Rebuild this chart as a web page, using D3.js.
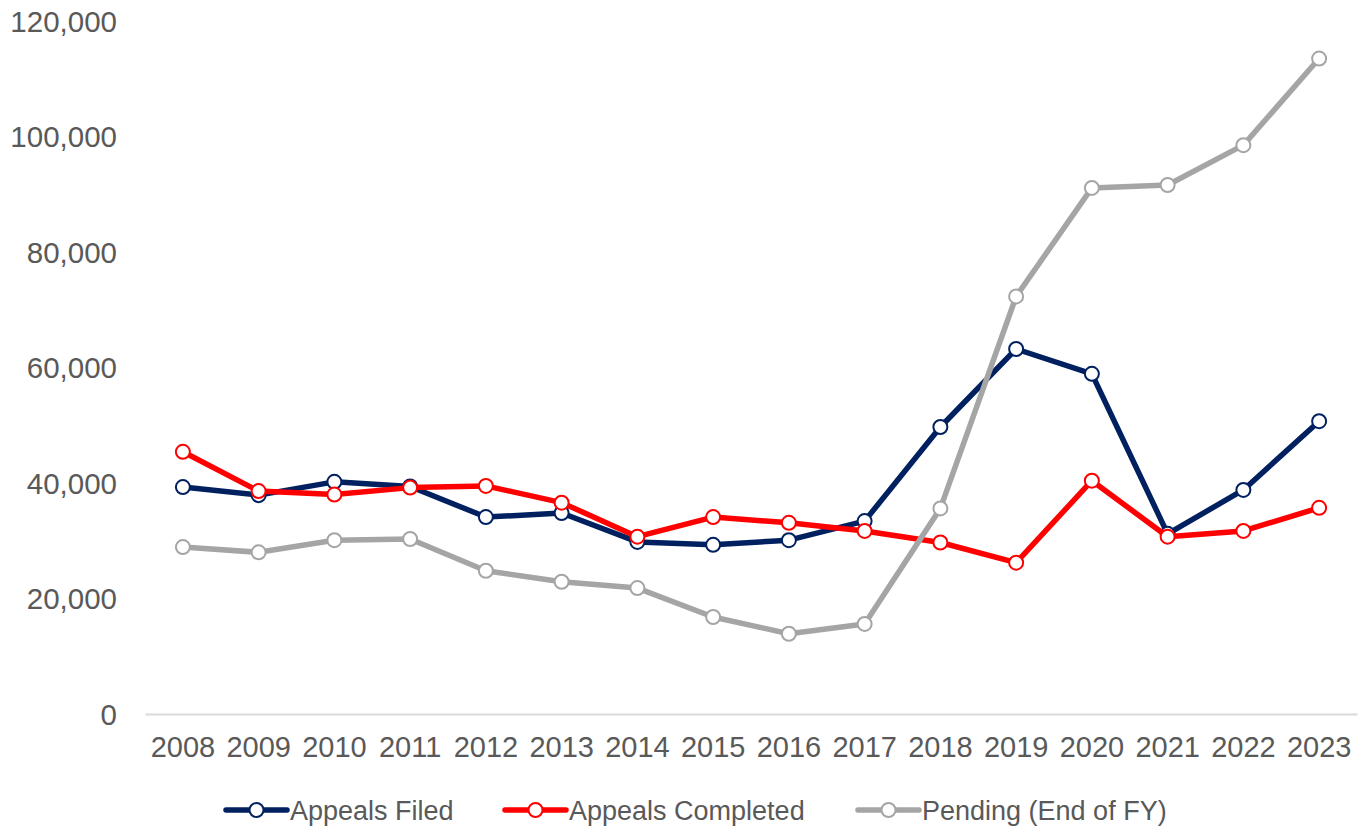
<!DOCTYPE html>
<html><head><meta charset="utf-8">
<script src="https://cdn.jsdelivr.net/npm/d3@7"></script>
<style>
html,body{margin:0;padding:0;background:#fff;}
svg text{font-family:"Liberation Sans",Arial,sans-serif;fill:#595959;}
</style></head>
<body><svg id="c" width="1364" height="827"></svg>
<script>
const years = ["2008","2009","2010","2011","2012","2013","2014","2015","2016","2017","2018","2019","2020","2021","2022","2023"];
const appealsFiled = [39300,37900,40200,39400,34100,34800,29800,29300,30100,33400,49700,63200,58900,31200,38800,50700];
const appealsCompleted = [45400,38600,38000,39200,39500,36600,30700,34100,33100,31700,29700,26200,40400,30700,31700,35700];
const pending = [28900,28000,30100,30300,24800,22900,21800,16800,13900,15600,35600,72300,91100,91600,98500,113500];
const yTicks = [0,20000,40000,60000,80000,100000,120000];
const seriesNames = ["Appeals Filed","Appeals Completed","Pending (End of FY)"];
const seriesColors = ["#002060","#ff0000","#a5a5a5"];

const svg = d3.select("#c");
const x = d3.scaleBand().domain(years).range([145,1357]);
const y = d3.scaleLinear().domain([0,120000]).range([714,21]);
const cx = d => x(d) + x.bandwidth()/2;

const fmt = d3.format(",");
svg.append("g").selectAll("text").data(yTicks).join("text")
  .attr("x",117).attr("y",d=>y(d)).attr("dy","0.36em")
  .attr("text-anchor","end").attr("font-size",29.5).text(d=>fmt(d));

const xa = svg.append("g").attr("transform","translate(0,714)")
  .call(d3.axisBottom(x).tickSize(0).tickPadding(22));
xa.select(".domain").attr("stroke","#d9d9d9").attr("stroke-width",2);
xa.selectAll("text").attr("font-size",29).attr("fill","#595959")
  .style("font-family","'Liberation Sans',Arial,sans-serif");

const all = [appealsFiled, appealsCompleted, pending];
const line = d3.line().x((d,i)=>cx(years[i])).y(d=>y(d));
all.forEach((s,k)=>{
  const g = svg.append("g");
  g.append("path").datum(s).attr("d",line).attr("fill","none")
    .attr("stroke",seriesColors[k]).attr("stroke-width",5.5).attr("stroke-linejoin","round");
  g.selectAll("circle").data(s).join("circle")
    .attr("cx",(d,i)=>cx(years[i])).attr("cy",d=>y(d)).attr("r",7)
    .attr("fill","#fff").attr("stroke",seriesColors[k]).attr("stroke-width",2);
});

const legX = [226,505,858];
seriesNames.forEach((n,k)=>{
  const g = svg.append("g").attr("transform",`translate(${legX[k]},810)`);
  g.append("line").attr("x1",0).attr("x2",61).attr("y1",0).attr("y2",0)
    .attr("stroke",seriesColors[k]).attr("stroke-width",5.5).attr("stroke-linecap","round");
  g.append("circle").attr("cx",30.5).attr("cy",0).attr("r",7)
    .attr("fill","#fff").attr("stroke",seriesColors[k]).attr("stroke-width",2);
  g.append("text").attr("x",64).attr("y",0).attr("dy","0.36em")
    .attr("font-size",27).text(n);
});
</script></body></html>
